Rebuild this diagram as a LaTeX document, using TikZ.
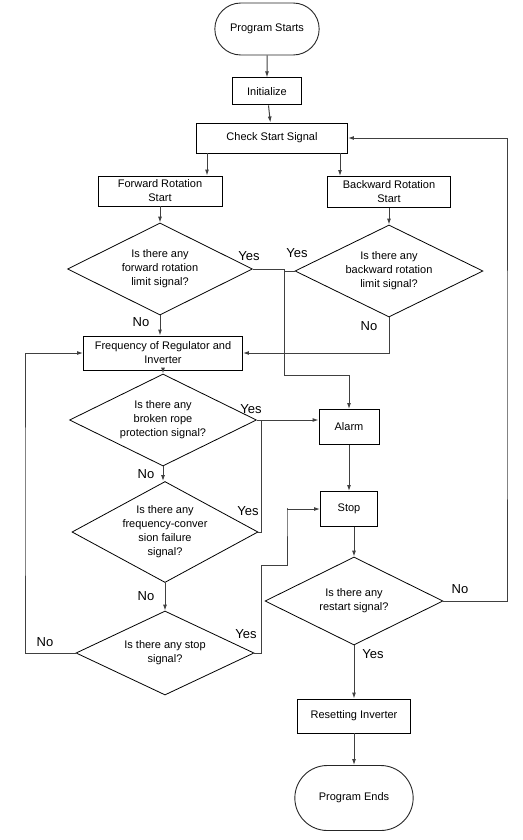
\documentclass[tikz,border=0pt]{standalone}
\usepackage{fontspec}
\setmainfont{Liberation Sans}
\usetikzlibrary{shapes.geometric,shapes.misc,arrows.meta,positioning,calc}
\newcommand{\boxfont}{\fontsize{11}{14}\selectfont}
\newcommand{\labfont}{\fontsize{13}{15}\selectfont}
\tikzset{
  terminal/.style args={#1,#2}{
  rounded rectangle,
  draw=black!85,
  line width=0.9pt,
  minimum width=#1pt,
  minimum height=#2pt,
  font=\boxfont
  },
  procbox/.style args={#1,#2}{
  rectangle,
  draw=black,
  line width=0.9pt,
  inner sep=1pt,
  align=center,
  minimum width=#1pt,
  minimum height=#2pt,
  font=\boxfont
  },
  decision/.style args={#1,#2}{
  diamond,
  aspect=1.8,
  draw=black,
  line width=0.8pt,
  inner sep=0pt,
  align=center,
  minimum width=#1pt,
  minimum height=#2pt,
  font=\boxfont
  },
  yesno/.style={font=\labfont,inner sep=0pt},
  flow/.style={-{Latex[length=6pt,width=4pt]},line width=1pt,draw=black!75},
  line/.style={line width=1pt,draw=black!75}
}

\begin{document}
\begin{tikzpicture}[x=1pt,y=-1pt]
  \useasboundingbox (0,0) rectangle (522,840);

  % main column
  \node [terminal={111,52}] (start) at (267,29) {Program Starts};
  \node [procbox={69,27},below=22pt of start] (init) {Initialize};
  \node [procbox={151,30}] (check) at (272,138) {Check Start Signal};
  \node [procbox={124,30}] (fwd) at (160,191) {Forward Rotation\\Start};
  \node [procbox={123,31}] (bwd) at (389,192) {Backward Rotation\\Start};
  \node [decision={185,92}] (dfwd) at (160,269) {Is there any\\forward rotation\\limit signal?};
  \node [decision={188,92}] (dbwd) at (389,271) {Is there any\\backward rotation\\limit signal?};
  \node [procbox={159,34}] (freq) at (163,353) {Frequency of Regulator and\\Inverter};
  \node [decision={187,92}] (drope) at (163,420) {Is there any\\broken rope\\protection signal?};
  \node [decision={186,101}] (dfail) at (165,532) {Is there any\\frequency-conver\\sion failure\\signal?};
  \node [decision={178,84}] (dstop) at (165,653) {Is there any stop\\signal?};

  % right column
  \node [procbox={60,35}] (alarm) at (349,427) {Alarm};
  \node [procbox={57,35}] (stop) at (349,509) {Stop};
  \node [decision={178,88}] (drestart) at (354,601) {Is there any\\restart signal?};
  \node [procbox={113,34}] (reset) at (354,716) {Resetting Inverter};
  \node [terminal={125,65}] (ends) at (354,798) {Program Ends};

  % bend points
  \coordinate (lx) at (207,0);
  \coordinate (rx) at (340,0);
  \coordinate (ya) at (284,375);
  \coordinate (rv) at (261,0);
  \coordinate (s1) at (261,565);
  \coordinate (s2) at (287,508);
  \coordinate (rb) at (507,400);
  \coordinate (lb) at (25,500);

  \draw [flow] (start) -- (init);
  \draw [flow] (init) -- (check);
  \draw [flow] (check.south -| lx) -- (fwd.north -| lx);
  \draw [flow] (check.south -| rx) -- (bwd.north -| rx);
  \draw [flow] (fwd) -- (dfwd);
  \draw [flow] (bwd) -- (dbwd);
  \draw [flow] (dfwd.south) -- (dfwd.south |- freq.north);
  \draw [flow] (dbwd.south) |- (freq.east);
  \draw [flow] (dfwd.east) -| (ya) -| (alarm.north);
  \draw [line] (dbwd.west) -- (dbwd.west -| ya);
  \draw [flow] (freq.south) -- (freq.south |- drope.north);
  \draw [flow] (drope.east) -- (drope.east -| alarm.west);
  \draw [line] (dfail.east) -| (drope.east -| rv);
  \draw [flow] (drope.south) -- (drope.south |- dfail.north);
  \draw [flow] (dfail.south) -- (dfail.south |- dstop.north);
  \draw [flow] (dstop.east) -| (s1) -| (s2) |- (stop.west);
  \draw [flow] (dstop.west) -| (lb) |- (freq.west);
  \draw [flow] (alarm) -- (stop);
  \draw [flow] (drestart.north |- stop.south) -- (drestart.north);
  \draw [flow] (drestart.east) -| (rb) |- (check.east);
  \draw [flow] (drestart.south) -- (reset.north);
  \draw [flow] (reset.south) -- (reset.south |- ends.north);

  % branch labels
  \node [yesno] (yfwd) at (249,256) {Yes};
  \node [yesno] (ybwd) at (297,253) {Yes};
  \node [yesno] (nfwd) at (141,322) {No};
  \node [yesno] (nbwd) at (369,326) {No};
  \node [yesno] (yrope) at (251,409) {Yes};
  \node [yesno] (nrope) at (146,474) {No};
  \node [yesno] (yfail) at (248,511) {Yes};
  \node [yesno] (nfail) at (146,596) {No};
  \node [yesno] (ystop) at (246,634) {Yes};
  \node [yesno] (nstop) at (45,642) {No};
  \node [yesno] (nrestart) at (460,589) {No};
  \node [yesno] (yrestart) at (373,654) {Yes};
\end{tikzpicture}
\end{document}
